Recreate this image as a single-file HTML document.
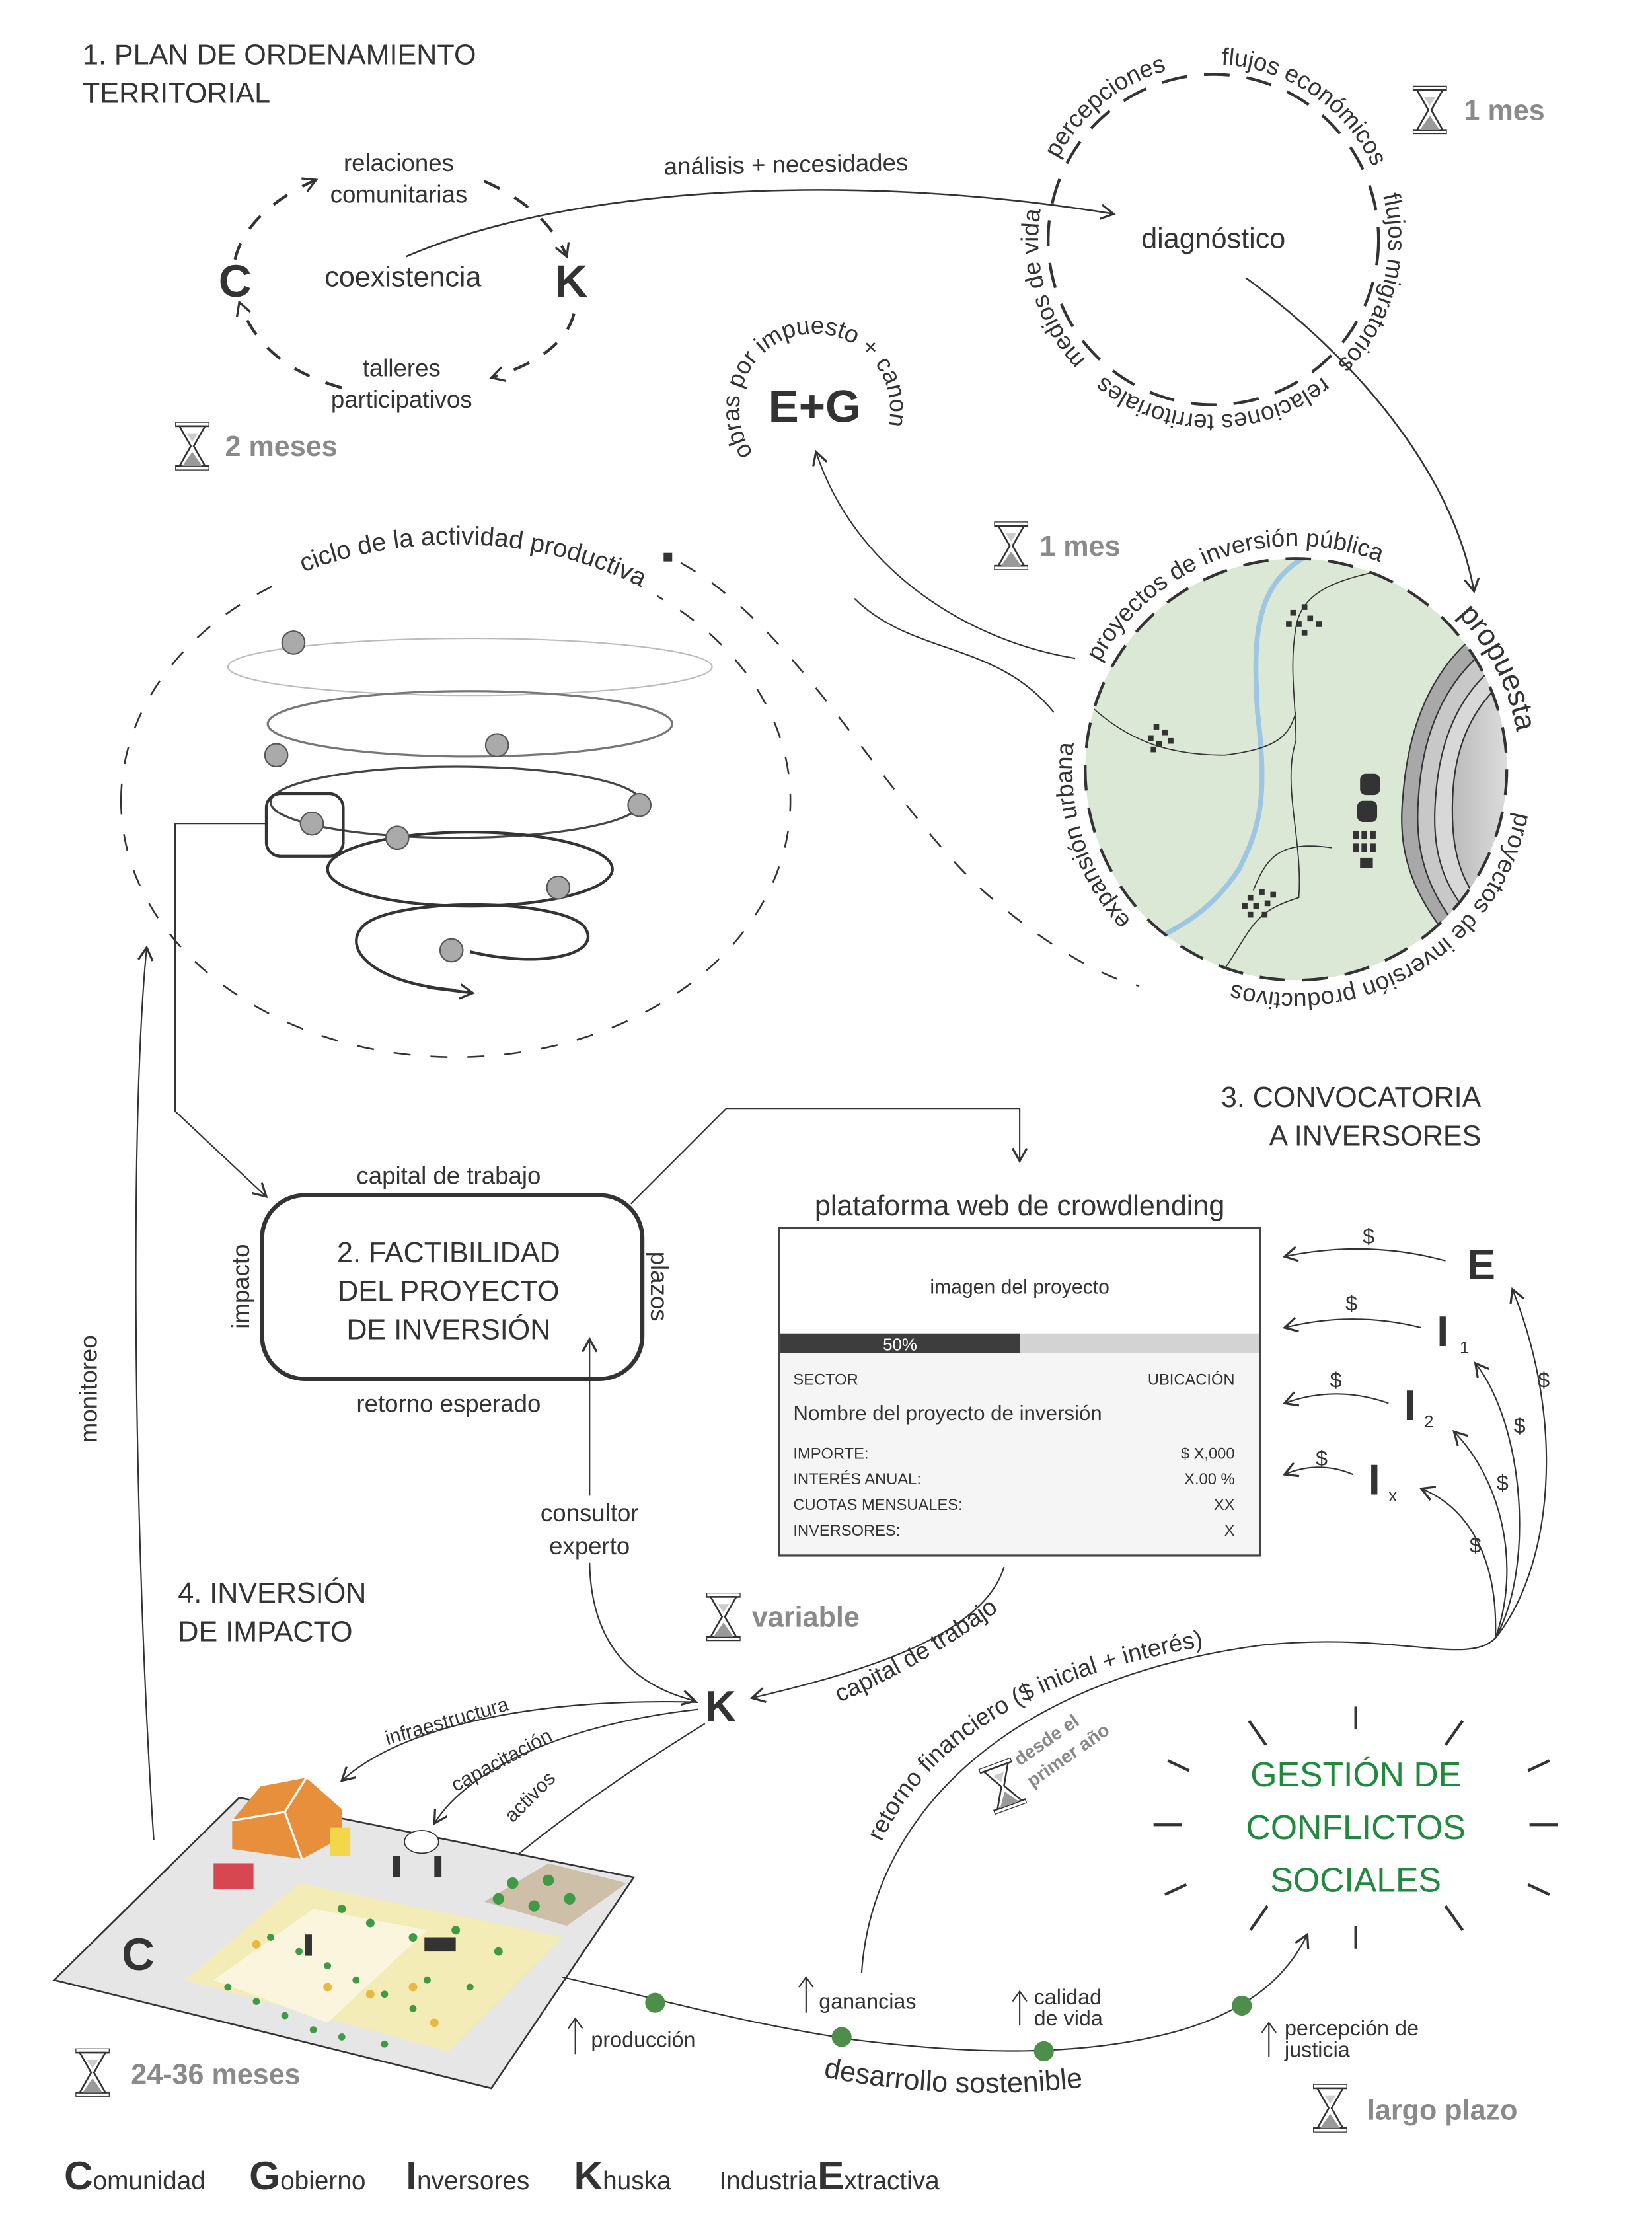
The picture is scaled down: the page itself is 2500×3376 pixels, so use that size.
<!DOCTYPE html>
<html><head><meta charset="utf-8"><style>
html,body{margin:0;padding:0;background:#fff}
svg{display:block}
text{font-family:"Liberation Sans",sans-serif;fill:#333}
.b{font-weight:bold}
.t{font-size:17px}
.g{fill:#8a8a8a;font-weight:bold;font-size:20px}
</style></head><body>
<svg width="2500" height="3376" viewBox="0 0 1160 1566" xmlns="http://www.w3.org/2000/svg">
<defs>
<marker id="a" markerWidth="12" markerHeight="12" refX="10" refY="6" orient="auto" markerUnits="userSpaceOnUse">
<path d="M1,1 L10,6 L1,11" fill="none" stroke="#333" stroke-width="1.5"/></marker>
<symbol id="hg" viewBox="0 0 24 34"><rect x="0" y="0" width="24" height="3" fill="#fff" stroke="#333" stroke-width="1.2"/><rect x="0" y="31" width="24" height="3" fill="#fff" stroke="#333" stroke-width="1.2"/><path d="M3,3 L21,3 L13,17 L21,31 L3,31 L11,17Z" fill="#fff" stroke="#333" stroke-width="1.2"/><path d="M5,31 L12,21 L19,31Z" fill="#999"/><path d="M8,8 L16,8 L12,14Z" fill="#ccc"/></symbol>
<path id="pd" d="M852,291 A123 123 0 1 1 852,45 A123 123 0 1 1 852,291 A123 123 0 1 1 852,45 A123 123 0 1 1 852,291"/>
<path id="pm" d="M910,697 A157 157 0 1 1 910,383 A157 157 0 1 1 910,697 A157 157 0 1 1 910,383 A157 157 0 1 1 910,697"/>
<path id="peg" d="M572,340 A53 53 0 1 1 572,234 A53 53 0 1 1 572,340"/>
<path id="pel" d="M85,562 A235 180 0 1 1 555,562 A235 180 0 1 1 85,562"/>
<path id="pcap" d="M585,1197 Q 650,1170 718,1118"/>
<path id="pret" d="M618,1295 C 660,1205 760,1165 885,1150"/>
<path id="pdes" d="M578,1458 Q 680,1478 785,1462"/>
<linearGradient id="gr" x1="0" x2="1"><stop offset="0" stop-color="#bbb"/><stop offset="1" stop-color="#fff"/></linearGradient>
<clipPath id="cc"><circle cx="910" cy="540" r="148"/></clipPath>
</defs>

<!-- Section 1 -->
<text x="58" y="45" style="font-size:20px">1. PLAN DE ORDENAMIENTO</text>
<text x="58" y="72" style="font-size:20px">TERRITORIAL</text>

<g fill="none" stroke="#333" stroke-width="2" stroke-dasharray="12 12">
<path d="M165,182 C170,160 190,140 222,126" marker-end="url(#a)"/>
<path d="M340,127 C370,140 390,160 398,180" marker-end="url(#a)"/>
<path d="M403,220 C398,240 378,255 345,265" marker-end="url(#a)"/>
<path d="M240,272 C205,262 180,245 168,212" marker-end="url(#a)"/>
</g>
<text class="t" x="280" y="120" text-anchor="middle">relaciones</text>
<text class="t" x="280" y="142" text-anchor="middle">comunitarias</text>
<text x="283" y="201" text-anchor="middle" style="font-size:20px">coexistencia</text>
<text class="b" x="165" y="208" text-anchor="middle" style="font-size:32px;font-weight:900">C</text>
<text class="b" x="401" y="208" text-anchor="middle" style="font-size:32px">K</text>
<text class="t" x="282" y="264" text-anchor="middle">talleres</text>
<text class="t" x="282" y="286" text-anchor="middle">participativos</text>
<use href="#hg" x="123" y="296" width="24" height="34"/>
<text class="g" x="158" y="320">2 meses</text>

<path d="M285,180 C400,130 600,120 782,150" fill="none" stroke="#333" stroke-width="1.2" marker-end="url(#a)"/>
<text class="t" x="552" y="121" text-anchor="middle" transform="rotate(-1 552 121)">análisis + necesidades</text>

<!-- diagnostico -->
<circle cx="852" cy="168" r="116" fill="none" stroke="#333" stroke-width="2" stroke-dasharray="18 12"/>
<text x="852" y="174" text-anchor="middle" style="font-size:20px">diagnóstico</text>
<g class="t" style="font-size:17px">
<text><textPath href="#pd" startOffset="100">medios de vida</textPath></text>
<text><textPath href="#pd" startOffset="252">percepciones</textPath></text>
<text><textPath href="#pd" startOffset="392">flujos económicos</textPath></text>
<text><textPath href="#pd" startOffset="548">flujos migratorios</textPath></text>
<text><textPath href="#pd" startOffset="690">relaciones territoriales</textPath></text>
</g>
<use href="#hg" x="992" y="60" width="24" height="34"/>
<text class="g" x="1028" y="84">1 mes</text>

<!-- E+G -->
<text class="b" x="572" y="296" text-anchor="middle" style="font-size:32px">E+G</text>
<text style="font-size:17px"><textPath href="#peg" startOffset="50">obras por impuesto + canon</textPath></text>

<path d="M875,195 C950,250 1020,330 1035,415" fill="none" stroke="#333" stroke-width="1.2" marker-end="url(#a)"/>

<!-- map -->
<circle cx="910" cy="540" r="148" fill="#dce8d6"/>
<g clip-path="url(#cc)">
<path d="M1085,420 C1020,440 990,490 985,560 C980,610 1000,640 1035,680 L1100,700 L1100,420Z" fill="#a8a8a8" stroke="#333" stroke-width="1"/>
<path d="M1090,432 C1030,450 1000,495 996,560 C992,610 1010,640 1045,675 L1100,690 L1100,432Z" fill="#c8c8c8" stroke="#333" stroke-width="1"/>
<path d="M1095,445 C1040,460 1012,500 1008,560 C1004,610 1020,635 1055,665 L1100,680 L1100,445Z" fill="#d8d8d8" stroke="#333" stroke-width="1"/>
<path d="M1100,455 C1050,470 1022,505 1020,560 C1018,610 1032,632 1062,655 L1100,665Z" fill="url(#gr)" stroke="#333" stroke-width="1"/>
<path d="M918,390 C880,410 880,450 883,500 C890,560 885,580 870,610 C850,640 830,650 800,665" fill="none" stroke="#9cc6e2" stroke-width="3.5"/>
<path d="M980,398 C950,405 915,410 910,440 C905,470 910,490 910,520 C900,550 915,590 912,630 C880,640 880,650 860,680 C850,690 840,700 835,710" fill="none" stroke="#333" stroke-width="0.8"/>
<path d="M760,490 C790,520 820,530 860,530 C900,525 905,515 910,500" fill="none" stroke="#333" stroke-width="0.8"/>
<path d="M880,625 C890,600 900,590 935,595" fill="none" stroke="#333" stroke-width="0.8"/>
</g>
<g fill="#333">
<rect x="906" y="428" width="4" height="4"/><rect x="914" y="424" width="4" height="4"/><rect x="918" y="432" width="4" height="4"/><rect x="910" y="436" width="4" height="4"/><rect x="924" y="436" width="4" height="4"/><rect x="914" y="442" width="4" height="4"/><rect x="903" y="436" width="4" height="4"/>
<rect x="810" y="508" width="4" height="4"/><rect x="816" y="512" width="4" height="4"/><rect x="806" y="516" width="4" height="4"/><rect x="812" y="520" width="4" height="4"/><rect x="820" y="518" width="4" height="4"/><rect x="808" y="524" width="4" height="4"/>
<rect x="876" y="628" width="4" height="4"/><rect x="884" y="624" width="4" height="4"/><rect x="892" y="626" width="4" height="4"/><rect x="872" y="634" width="4" height="4"/><rect x="880" y="634" width="4" height="4"/><rect x="888" y="632" width="4" height="4"/><rect x="876" y="640" width="4" height="4"/><rect x="886" y="640" width="4" height="4"/>
<rect x="955" y="543" width="14" height="15" rx="4"/><rect x="953" y="562" width="14" height="15" rx="4"/>
<rect x="950" y="583" width="4" height="6"/><rect x="956" y="583" width="4" height="6"/><rect x="962" y="583" width="4" height="6"/><rect x="950" y="592" width="4" height="6"/><rect x="956" y="592" width="4" height="6"/><rect x="962" y="592" width="4" height="6"/><rect x="955" y="602" width="9" height="7"/>
</g>
<circle cx="910" cy="540" r="148" fill="none" stroke="#333" stroke-width="2" stroke-dasharray="18 12"/>
<g style="font-size:17px">
<text><textPath href="#pm" startOffset="130">expansión urbana</textPath></text>
<text><textPath href="#pm" startOffset="325">proyectos de inversión pública</textPath></text>
<text style="font-size:21px"><textPath href="#pm" startOffset="620">propuesta</textPath></text>
<text><textPath href="#pm" startOffset="770">proyectos de inversión productivos</textPath></text>
</g>
<use href="#hg" x="698" y="366" width="24" height="34"/>
<text class="g" x="730" y="390">1 mes</text>
<path d="M755,462 C680,450 600,400 573,317" fill="none" stroke="#333" stroke-width="1" marker-end="url(#a)"/>
<path d="M740,500 C700,450 640,460 600,420" fill="none" stroke="#333" stroke-width="1"/>

<!-- cycle ellipse -->
<path d="M85,562 A235 180 0 1 1 555,562 A235 180 0 1 1 85,562" fill="none" stroke="#333" stroke-width="1.2" stroke-dasharray="12 14"/>
<path d="M85,562 A235 180 0 1 1 555,562" fill="none" stroke="#fff" stroke-width="16" stroke-dasharray="0 205 270 2000"/>
<path d="M478,395 C560,440 620,560 690,625 C730,660 770,685 800,692" fill="none" stroke="#333" stroke-width="1.2" stroke-dasharray="12 14"/>
<rect x="466" y="388" width="6" height="6" fill="#333"/>
<text style="font-size:18px"><textPath href="#pel" startOffset="218">ciclo de la actividad productiva</textPath></text>

<!-- spiral -->
<g fill="none" stroke-width="1.5">
<ellipse cx="330" cy="468" rx="170" ry="20" stroke="#bbb" stroke-width="1"/>
<ellipse cx="330" cy="508" rx="142" ry="23" stroke="#777"/>
<ellipse cx="320" cy="563" rx="130" ry="25" stroke="#444"/>
<ellipse cx="330" cy="610" rx="100" ry="26" stroke="#333" stroke-width="2"/>
<path d="M320,695 C260,690 240,665 255,650 C275,630 390,630 410,650 C425,670 380,680 330,668" stroke="#333" stroke-width="2"/>
<path d="M300,693 L332,697" stroke="#333" stroke-width="2" marker-end="url(#a)"/>
</g>
<g fill="#aaa" stroke="#555" stroke-width="1">
<circle cx="206" cy="451" r="8"/><circle cx="349" cy="523" r="8"/><circle cx="194" cy="530" r="8"/><circle cx="449" cy="565" r="8"/><circle cx="219" cy="578" r="8"/><circle cx="279" cy="588" r="8"/><circle cx="392" cy="623" r="8"/><circle cx="317" cy="667" r="8"/>
</g>
<rect x="187" y="557" width="54" height="44" rx="10" fill="none" stroke="#333" stroke-width="2"/>
<path d="M187,578 L123,578 L123,780 L187,840" fill="none" stroke="#333" stroke-width="1" marker-end="url(#a)"/>

<!-- section 2 -->
<rect x="184" y="839" width="267" height="129" rx="30" fill="#fff" stroke="#333" stroke-width="3"/>
<text x="315" y="886" text-anchor="middle" style="font-size:20px">2. FACTIBILIDAD</text>
<text x="315" y="913" text-anchor="middle" style="font-size:20px">DEL PROYECTO</text>
<text x="315" y="940" text-anchor="middle" style="font-size:20px">DE INVERSIÓN</text>
<text class="t" x="315" y="831" text-anchor="middle">capital de trabajo</text>
<text class="t" x="315" y="991" text-anchor="middle">retorno esperado</text>
<text class="t" x="0" y="0" text-anchor="middle" transform="translate(175 903) rotate(-90)">impacto</text>
<text class="t" x="0" y="0" text-anchor="middle" transform="translate(457 903) rotate(90)">plazos</text>
<path d="M443,845 L510,778 L716,778 L716,815" fill="none" stroke="#333" stroke-width="1" marker-end="url(#a)"/>

<!-- section 3 -->
<text x="1040" y="777" text-anchor="end" style="font-size:20px">3. CONVOCATORIA</text>
<text x="1040" y="804" text-anchor="end" style="font-size:20px">A INVERSORES</text>
<text x="716" y="853" text-anchor="middle" style="font-size:20px">plataforma web de crowdlending</text>
<rect x="547" y="862" width="338" height="230" fill="#f5f5f5" stroke="#444" stroke-width="1.5"/>
<rect x="548" y="863" width="336" height="73" fill="#fff"/>
<text x="716" y="908" text-anchor="middle" style="font-size:14px">imagen del proyecto</text>
<rect x="548" y="936" width="168" height="14" fill="#3d3d3d"/>
<rect x="716" y="936" width="168" height="14" fill="#d3d3d3"/>
<text x="632" y="948" text-anchor="middle" style="font-size:12px;fill:#fff">50%</text>
<g style="font-size:11px">
<text x="557" y="972">SECTOR</text><text x="867" y="972" text-anchor="end">UBICACIÓN</text>
<text x="557" y="1024">IMPORTE:</text><text x="867" y="1024" text-anchor="end">$ X,000</text>
<text x="557" y="1042">INTERÉS ANUAL:</text><text x="867" y="1042" text-anchor="end">X.00 %</text>
<text x="557" y="1060">CUOTAS MENSUALES:</text><text x="867" y="1060" text-anchor="end">XX</text>
<text x="557" y="1078">INVERSORES:</text><text x="867" y="1078" text-anchor="end">X</text>
</g>
<text x="557" y="997" style="font-size:14.5px">Nombre del proyecto de inversión</text>

<g class="b" style="font-size:30px">
<text x="1040" y="898" text-anchor="middle">E</text>
<text x="1013" y="945" text-anchor="middle">I</text><text x="1025" y="950" style="font-size:12px;font-weight:normal">1</text>
<text x="990" y="997" text-anchor="middle">I</text><text x="1000" y="1002" style="font-size:12px;font-weight:normal">2</text>
<text x="965" y="1049" text-anchor="middle">I</text><text x="975" y="1054" style="font-size:12px;font-weight:normal">x</text>
</g>
<g fill="none" stroke="#333" stroke-width="1">
<path d="M1015,885 Q960,870 902,882" marker-end="url(#a)"/>
<path d="M998,932 Q950,920 902,932" marker-end="url(#a)"/>
<path d="M975,985 Q938,972 902,985" marker-end="url(#a)"/>
<path d="M950,1035 Q926,1025 902,1035" marker-end="url(#a)"/>
<path d="M605,1385 C612,1280 700,1180 885,1155 C980,1145 1030,1170 1050,1150 C1090,1100 1100,1000 1062,905" marker-end="url(#a)"/>
<path d="M1050,1150 C1078,1100 1070,1000 1036,957" marker-end="url(#a)"/>
<path d="M1050,1150 C1068,1100 1055,1040 1021,1005" marker-end="url(#a)"/>
<path d="M1050,1150 C1052,1100 1035,1060 998,1045" marker-end="url(#a)"/>
</g>
<g style="font-size:15px">
<text x="961" y="873" text-anchor="middle">$</text><text x="949" y="920" text-anchor="middle">$</text>
<text x="938" y="974" text-anchor="middle">$</text><text x="928" y="1029" text-anchor="middle">$</text>
<text x="1084" y="974" text-anchor="middle">$</text><text x="1067" y="1006" text-anchor="middle">$</text>
<text x="1055" y="1046" text-anchor="middle">$</text><text x="1036" y="1090" text-anchor="middle">$</text>
</g>

<!-- consultor -->
<path d="M414,1050 L414,940" fill="none" stroke="#333" stroke-width="1" marker-end="url(#a)"/>
<text class="t" x="414" y="1068" text-anchor="middle">consultor</text>
<text class="t" x="414" y="1091" text-anchor="middle">experto</text>
<path d="M414,1097 C415,1150 440,1182 488,1194" fill="none" stroke="#333" stroke-width="1" marker-end="url(#a)"/>

<text x="125" y="1125" style="font-size:20px">4. INVERSIÓN</text>
<text x="125" y="1152" style="font-size:20px">DE IMPACTO</text>
<use href="#hg" x="496" y="1118" width="24" height="34"/>
<text class="g" x="528" y="1142">variable</text>
<text class="b" x="506" y="1208" text-anchor="middle" style="font-size:30px">K</text>
<path d="M705,1100 C690,1150 600,1175 528,1192" fill="none" stroke="#333" stroke-width="1" marker-end="url(#a)"/>
<text class="t"><textPath href="#pcap" startOffset="5">capital de trabajo</textPath></text>
<text class="t"><textPath href="#pret" startOffset="2">retorno financiero ($ inicial + interés)</textPath></text>
<use href="#hg" x="0" y="0" width="24" height="34" transform="translate(687 1242) rotate(-20)"/>
<text x="0" y="0" transform="translate(716 1240) rotate(-35)" style="font-size:13px;fill:#888;font-weight:bold">desde el</text>
<text x="0" y="0" transform="translate(725 1255) rotate(-35)" style="font-size:13px;fill:#888;font-weight:bold">primer año</text>

<g fill="none" stroke="#333" stroke-width="1">
<path d="M490,1195 C400,1192 290,1205 240,1250" marker-end="url(#a)"/>
<path d="M490,1200 C400,1210 330,1240 305,1280" marker-end="url(#a)"/>
<path d="M495,1210 C430,1250 360,1300 322,1340" marker-end="url(#a)"/>
<path d="M108,1292 C95,1100 90,800 103,665" marker-end="url(#a)"/>
</g>
<text x="0" y="0" transform="translate(272 1225) rotate(-16)" style="font-size:14px">infraestructura</text>
<text x="0" y="0" transform="translate(320 1258) rotate(-28)" style="font-size:14px">capacitación</text>
<text x="0" y="0" transform="translate(360 1280) rotate(-45)" style="font-size:14px">activos</text>
<text class="t" x="0" y="0" text-anchor="middle" transform="translate(68 975) rotate(-90)">monitoreo</text>

<!-- farm -->
<polygon points="38,1390 168,1262 445,1318 345,1466" fill="#e6e6e6" stroke="#333" stroke-width="1.2"/>
<polygon points="130,1390 210,1322 395,1360 315,1440" fill="#f3ecb6"/>
<polygon points="150,1390 220,1340 300,1355 230,1420" fill="#faf5dc"/>
<polygon points="340,1335 385,1308 440,1322 398,1352" fill="#cdbfa8"/>
<g fill="#3f9a45">
<circle cx="190" cy="1360" r="2.5"/><circle cx="210" cy="1370" r="2.5"/><circle cx="230" cy="1380" r="2.5"/><circle cx="250" cy="1390" r="2.5"/><circle cx="270" cy="1400" r="2.5"/><circle cx="290" cy="1410" r="2.5"/>
<circle cx="160" cy="1395" r="2.5"/><circle cx="180" cy="1405" r="2.5"/><circle cx="200" cy="1415" r="2.5"/><circle cx="220" cy="1425" r="2.5"/><circle cx="240" cy="1430" r="2.5"/><circle cx="270" cy="1435" r="2.5"/>
<circle cx="240" cy="1340" r="3"/><circle cx="260" cy="1350" r="3"/><circle cx="290" cy="1360" r="3"/><circle cx="320" cy="1355" r="3"/><circle cx="350" cy="1370" r="3"/><circle cx="300" cy="1390" r="2.5"/><circle cx="330" cy="1395" r="2.5"/>
<circle cx="360" cy="1322" r="4"/><circle cx="385" cy="1320" r="4"/><circle cx="375" cy="1338" r="4"/><circle cx="400" cy="1333" r="4"/><circle cx="350" cy="1333" r="4"/>
</g>
<g fill="#e8b840"><circle cx="180" cy="1365" r="3"/><circle cx="230" cy="1395" r="3"/><circle cx="260" cy="1400" r="3"/><circle cx="290" cy="1395" r="3"/><circle cx="305" cy="1420" r="3"/></g>
<polygon points="163,1278 183,1254 215,1248 240,1270 240,1290 212,1305 163,1298" fill="#e88f3c"/>
<path d="M163,1278 L200,1272 L215,1248 M200,1272 L212,1305" stroke="#fff" stroke-width="1.5" fill="none"/>
<rect x="232" y="1283" width="14" height="20" fill="#f3d74a"/>
<rect x="150" y="1308" width="28" height="18" fill="#d64750"/>
<ellipse cx="296" cy="1293" rx="12" ry="8" fill="#fff" stroke="#333" stroke-width="0.8"/>
<g fill="#333"><rect x="276" y="1303" width="5" height="15"/><rect x="305" y="1303" width="5" height="15"/><rect x="214" y="1358" width="5" height="15"/><rect x="298" y="1360" width="22" height="10"/></g>
<text class="b" x="97" y="1383" text-anchor="middle" style="font-size:32px;font-weight:900">C</text>
<use href="#hg" x="53" y="1438" width="24" height="34"/>
<text class="g" x="92" y="1463">24-36 meses</text>

<!-- bottom curve -->
<path d="M395,1388 C470,1405 520,1420 600,1432 C680,1442 760,1445 830,1425 C880,1410 905,1385 918,1358" fill="none" stroke="#333" stroke-width="1" marker-end="url(#a)"/>
<g fill="#4d8f4a"><circle cx="460" cy="1406" r="7"/><circle cx="591" cy="1430" r="7"/><circle cx="733" cy="1440" r="7"/><circle cx="872" cy="1408" r="7"/></g>
<g fill="none" stroke="#333" stroke-width="1">
<path d="M404,1442 L404,1417 M399,1424 L404,1417 L409,1424"/>
<path d="M566,1413 L566,1388 M561,1395 L566,1388 L571,1395"/>
<path d="M716,1422 L716,1398 M711,1405 L716,1398 L721,1405"/>
<path d="M891,1444 L891,1420 M886,1427 L891,1420 L896,1427"/>
</g>
<g style="font-size:15px">
<text x="415" y="1437">producción</text>
<text x="575" y="1410">ganancias</text>
<text x="726" y="1407">calidad</text><text x="726" y="1422">de vida</text>
<text x="902" y="1429">percepción de</text><text x="902" y="1444">justicia</text>
</g>
<text style="font-size:20px"><textPath href="#pdes">desarrollo sostenible</textPath></text>
<use href="#hg" x="922" y="1463" width="24" height="34"/>
<text class="g" x="960" y="1488">largo plazo</text>

<!-- gestion -->
<g style="font-size:24px" text-anchor="middle">
<text x="952" y="1254" style="fill:#1f8a3b">GESTIÓN DE</text>
<text x="952" y="1291" style="fill:#1f8a3b">CONFLICTOS</text>
<text x="952" y="1328" style="fill:#1f8a3b">SOCIALES</text>
</g>
<g stroke="#333" stroke-width="2">
<line x1="952" y1="1198" x2="952" y2="1214"/><line x1="952" y1="1352" x2="952" y2="1368"/>
<line x1="877" y1="1208" x2="889" y2="1225"/><line x1="1027" y1="1208" x2="1015" y2="1225"/>
<line x1="820" y1="1236" x2="835" y2="1243"/><line x1="1088" y1="1236" x2="1073" y2="1243"/>
<line x1="810" y1="1281" x2="830" y2="1281"/><line x1="1074" y1="1281" x2="1094" y2="1281"/>
<line x1="818" y1="1330" x2="833" y2="1323"/><line x1="1088" y1="1330" x2="1073" y2="1323"/>
<line x1="878" y1="1355" x2="890" y2="1338"/><line x1="1027" y1="1355" x2="1015" y2="1338"/>
</g>

<!-- legend -->
<g style="font-size:18px">
<text x="45" y="1537"><tspan style="font-size:28px;font-weight:900">C</tspan>omunidad</text>
<text x="175" y="1537"><tspan style="font-size:28px;font-weight:bold">G</tspan>obierno</text>
<text x="285" y="1537"><tspan style="font-size:28px;font-weight:bold">I</tspan>nversores</text>
<text x="403" y="1537"><tspan style="font-size:28px;font-weight:bold">K</tspan>huska</text>
<text x="505" y="1537">Industria<tspan style="font-size:28px;font-weight:bold">E</tspan>xtractiva</text>
</g>
</svg>
</body></html>
